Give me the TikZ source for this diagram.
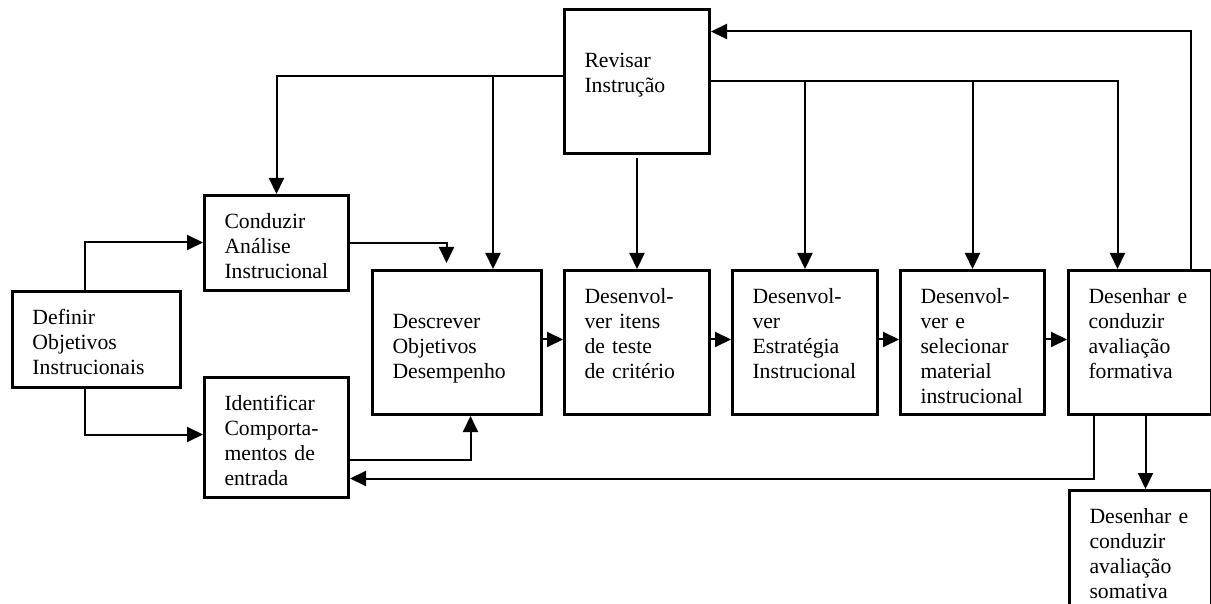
\documentclass[tikz,border=0pt]{standalone}
\usepackage{fontspec}
\setmainfont{Liberation Serif}
\usetikzlibrary{arrows.meta,positioning,calc}

\begin{document}
\begin{tikzpicture}[
  x=0.5pt, y=-0.5pt,
  every node/.style={font=\fontsize{10.85pt}{12.5pt}\selectfont},
  block/.style={draw, line width=1.5pt, anchor=north west, align=left,
                inner xsep=10pt, inner ysep=0pt, text height=16.5pt,
                text width=52.5pt, text depth=55.5pt},
  arr/.style={-{Triangle[length=8pt, width=7.5pt]}, line width=1pt}
]
  \useasboundingbox (0,0) rectangle (1211,604);

  % left column
  \node[block, text width=64pt, text depth=31.5pt] (def) at (11,290)
    {Definir\\Objetivos\\Instrucionais};
  \node[block, text width=52pt, text depth=31pt] (cond) at (203,194)
    {Conduzir\\Análise\\Instrucional};
  \node[block, text width=52pt, text depth=43.5pt] (ident) at (203,376)
    {Identificar\\Comporta-\\mentos de\\entrada};

  % revision box
  \node[block, text height=29pt, text depth=43pt] (rev) at (563,8)
    {Revisar\\Instrução};

  % main row
  \node[block, text width=64.5pt, text height=29pt, text depth=43pt] (desc) at (371,269)
    {Descrever\\Objetivos\\Desempenho};
  \node[block] (itens) at (563,269) {Desenvol-\\ver itens\\de teste\\de critério};
  \node[block] (estr)  at (731,269) {Desenvol-\\ver\\Estratégia\\Instrucional};
  \node[block, text width=52pt] (mat) at (899,269)
    {Desenvol-\\ver e\\selecionar\\material\\instrucional};
  \node[block, text width=51.5pt] (form) at (1067,269)
    {Desenhar e\\conduzir\\avaliação\\formativa};
  \node[block, text width=51pt, text depth=49pt] (som) at (1068,489)
    {Desenhar e\\conduzir\\avaliação\\somativa};

  % from definir
  \draw[arr] ([xshift=-6pt]def.north) |- ([yshift=0.25pt]cond.west);
  \draw[arr] ([xshift=-6pt]def.south) |- ([yshift=1.5pt]ident.west);

  % into descrever
  \draw[arr] (cond.east) -| ([xshift=-5.25pt, yshift=3pt]desc.north);
  \draw[arr] ([yshift=-11pt]ident.east) -| ([xshift=6.75pt]desc.south);

  % chain
  \draw[arr] ([yshift=1.5pt]desc.east)  -- ([yshift=1.5pt]itens.west);
  \draw[arr] ([yshift=1.5pt]itens.east) -- ([yshift=1.5pt]estr.west);
  \draw[arr] ([yshift=1.5pt]estr.east)  -- ([yshift=1.5pt]mat.west);
  \draw[arr] ([yshift=1.5pt]mat.east)   -- ([yshift=1.5pt]form.west);

  % revision lines
  \coordinate (lbus) at ([yshift=2.5pt]rev.west);
  \coordinate (descin) at ([xshift=18pt]desc.north);
  \coordinate (formin) at ([xshift=-11.25pt]form.north);
  \draw[arr] (lbus) -| (cond.north);
  \draw[arr] (lbus -| descin) -- (descin);
  \draw[arr] ([yshift=-1.5pt]rev.south) -- (itens.north);
  \draw[arr] (rev.east) -| (formin);
  \draw[arr] (rev.east -| estr.north) -- (estr.north);
  \draw[arr] (rev.east -| mat.north) -- (mat.north);

  % feedback
  \draw[arr] ([xshift=25.25pt]form.north) |- ([yshift=25pt]rev.east);
  \draw[arr] ([xshift=-23.25pt]form.south) |- ([yshift=-20.5pt]ident.east);
  \draw[arr] ([xshift=2.75pt]form.south) -- ([xshift=2.75pt]form.south |- som.north);

\end{tikzpicture}
\end{document}
